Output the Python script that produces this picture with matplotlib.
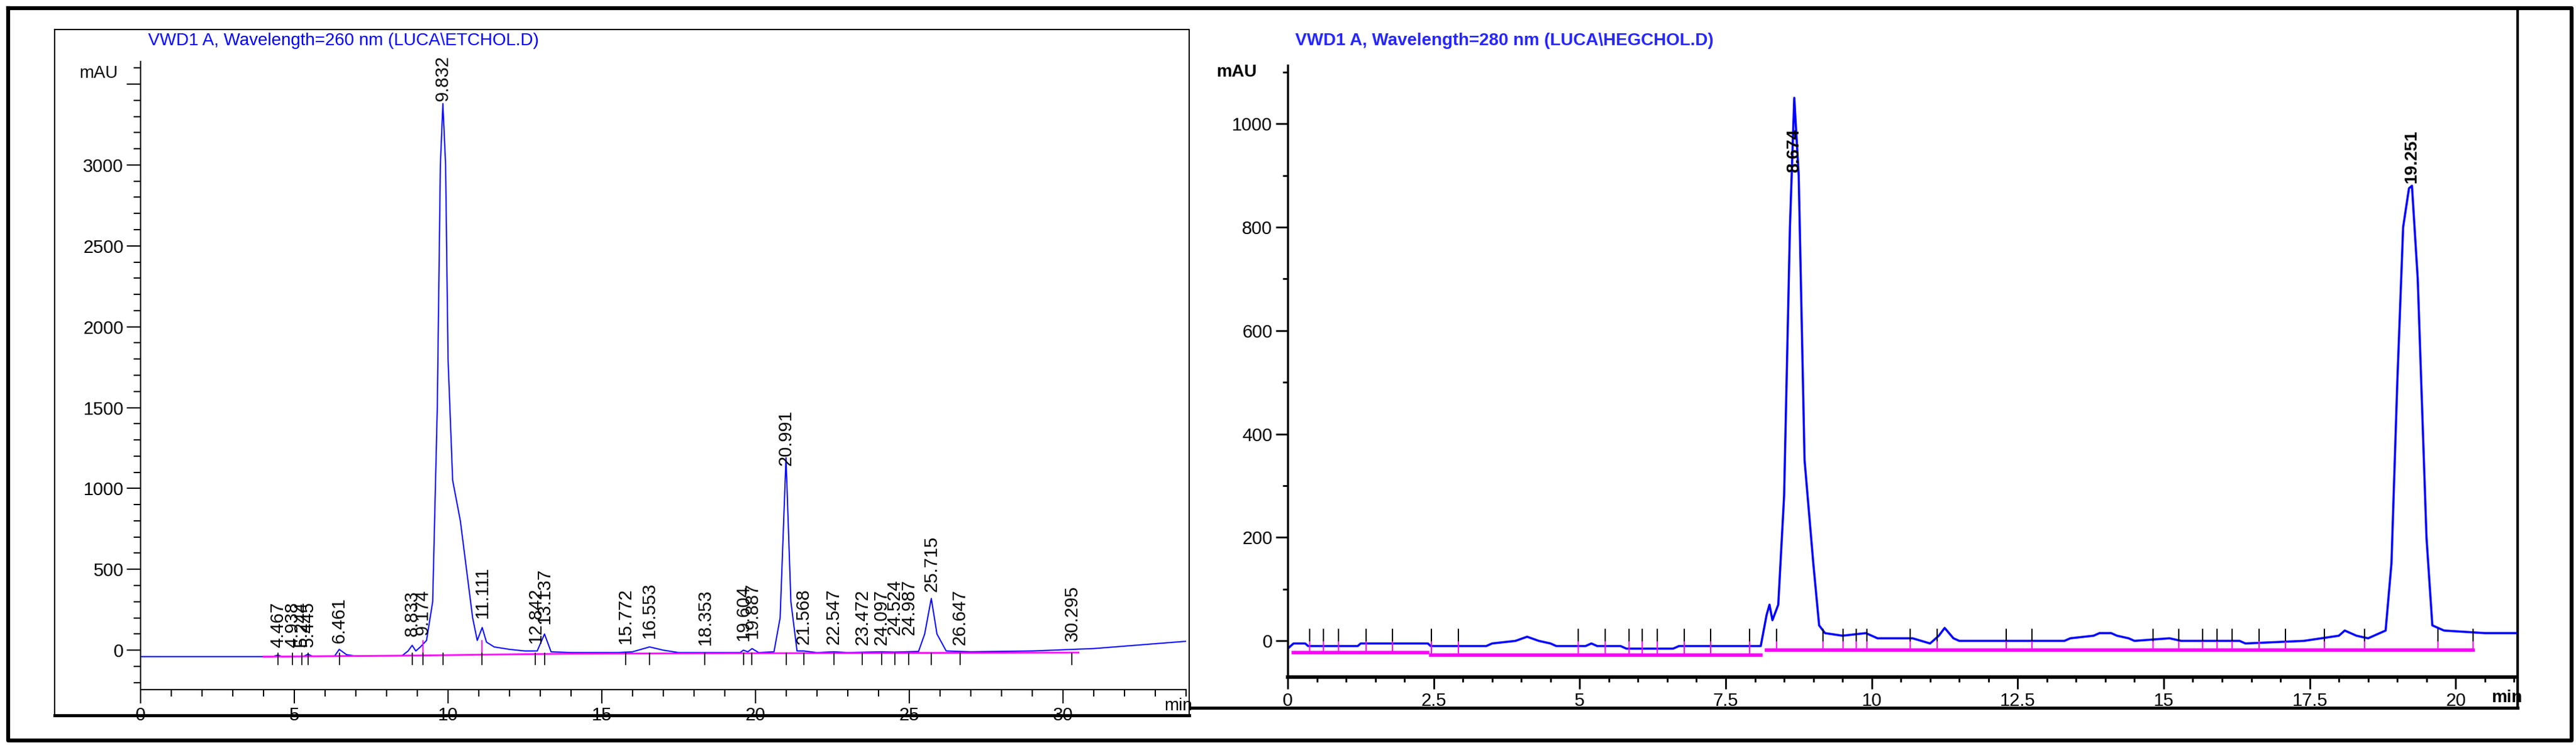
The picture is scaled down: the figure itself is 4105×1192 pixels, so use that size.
import matplotlib
matplotlib.use("Agg")
import matplotlib.pyplot as plt
from matplotlib.ticker import MultipleLocator, FixedFormatter, FixedLocator

# ---------------- data: left chromatogram (260 nm) ----------------
left_t = [0, 4.3, 4.467, 4.6, 5.3, 5.445, 5.6, 6.3, 6.461, 6.7, 7.0, 8.5, 8.7, 8.833, 8.95, 9.1, 9.3, 9.5,
          9.65, 9.75, 9.832, 9.92, 10.0, 10.15, 10.4, 10.6, 10.8, 10.95, 11.111, 11.25, 11.5, 12.0, 12.5,
          12.9, 13.137, 13.35, 14.0, 15.5, 16.0, 16.553, 17.0, 17.5, 19.5, 19.604, 19.75, 19.887, 20.1,
          20.6, 20.8, 20.991, 21.15, 21.35, 21.568, 22.0, 22.547, 23.0, 24.097, 24.5, 25.3, 25.5, 25.715,
          25.9, 26.2, 27.0, 29.0, 31.0, 33.0, 34.0]
left_v = [-40, -40, -30, -40, -39, -25, -39, -39, 5, -28, -36, -35, -5, 30, -5, 20, 60, 300,
          1500, 3000, 3380, 3000, 1800, 1050, 800, 500, 200, 60, 140, 50, 20, 5, -5,
          -5, 100, -10, -15, -15, -10, 20, 0, -15, -15, 0, -10, 10, -15,
          -10, 200, 1190, 300, -5, -5, -15, -10, -15, -10, -12, -8, 100, 320,
          100, -5, -10, -5, 10, 40, 55]
left_peaks = ["4.467", "4.938", "5.244", "5.445", "6.461", "8.833", "9.174", "9.832", "11.111", "12.842",
              "13.137", "15.772", "16.553", "18.353", "19.604", "19.887", "20.991", "21.568", "22.547",
              "23.472", "24.097", "24.524", "24.987", "25.715", "26.647", "30.295"]
left_label_y = [0, 0, 5, 5, 30, 70, 80, 3380, 185, 30, 150, 25, 60, 15, 45, 60, 1125, 20, 20,
                15, 15, 80, 80, 345, 15, 40]
left_yticks = [0, 500, 1000, 1500, 2000, 2500, 3000, 3500]
left_yticklabels = ["0", "500", "1000", "1500", "2000", "2500", "3000", ""]
left_base_t = [4.0, 9.1, 11.0, 13.9, 17.5, 30.5]
left_base_v = [-40, -33, -28, -22, -20, -15]
left_drop_t = [9.174, 11.111]
left_drop_top = [60, 60]

# ---------------- data: right chromatogram ----------------
right_t = [0, 0.1, 0.3, 0.35, 1.2, 1.25, 2.4, 2.45, 3.4, 3.5, 3.9, 4.1, 4.3, 4.5, 4.6, 5.1, 5.2, 5.3, 5.7,
           5.8, 6.6, 6.7, 8.1, 8.2, 8.25, 8.3, 8.4, 8.5, 8.6, 8.674, 8.75, 8.85, 9.0, 9.1, 9.2, 9.5, 9.9,
           10.1, 10.7, 11.0, 11.15, 11.25, 11.4, 11.5, 13.3, 13.4, 13.8, 13.9, 14.1, 14.2, 14.4, 14.5,
           15.1, 15.3, 16.3, 16.4, 17.4, 18.0, 18.1, 18.3, 18.5, 18.8, 18.9, 19.0, 19.1, 19.2, 19.251,
           19.35, 19.5, 19.6, 19.7, 19.8, 20.5, 21.05]
right_v = [-15, -5, -5, -10, -10, -5, -5, -10, -10, -5, 0, 8, 0, -5, -10, -10, -5, -10, -10,
           -15, -15, -10, -10, 50, 70, 40, 70, 280, 800, 1050, 900, 350, 150, 30, 15, 10, 15,
           5, 5, -5, 10, 25, 5, 0, 0, 5, 10, 15, 15, 10, 5, 0,
           5, 0, 0, -5, 0, 10, 20, 10, 5, 20, 150, 500, 800, 875, 880,
           700, 200, 30, 25, 20, 15, 15]
right_peaks = ["8.674", "19.251"]
right_peak_t = [8.674, 19.251]
right_label_y = [905, 885]
right_xticks = [0, 2.5, 5, 7.5, 10, 12.5, 15, 17.5, 20]
right_xticklabels = ["0", "2.5", "5", "7.5", "10", "12.5", "15", "17.5", "20"]
right_base_seg = [(0.1, 2.4, -23), (2.45, 8.1, -28), (8.2, 20.3, -18)]
right_marks = [0.38, 0.61, 0.87, 1.34, 1.79, 2.46, 2.92, 4.98, 5.44, 5.85, 6.07, 6.33, 6.79, 7.24, 7.91,
               8.37, 9.17, 9.51, 9.73, 9.92, 10.66, 11.12, 12.30, 12.74, 14.82, 15.26, 15.67, 15.91,
               16.17, 16.63, 17.08, 17.75, 18.44, 19.70, 20.30]

W, H = 4105, 1192
fig = plt.figure(figsize=(W / 100, H / 100), dpi=100)
plt.rcParams['font.family'] = ['Liberation Sans Narrow', 'Liberation Sans', 'DejaVu Sans']

# frame overlay
ov = fig.add_axes([0, 0, 1, 1], zorder=-1)
ov.set_xlim(0, W); ov.set_ylim(H, 0); ov.axis('off')
ov.plot([13, 4098, 4098, 13, 13], [13, 13, 1180, 1180, 13], color='black', lw=4.5)
ov.plot([87, 1895, 1895], [47, 47, 1140], color='black', lw=1.5)
ov.plot([87, 87], [47, 1140], color='black', lw=1.5)
ov.plot([87, 1895], [1140, 1140], color='black', lw=3.5)
ov.plot([1900, 4012], [1128, 1128], color='black', lw=3.5)
ov.plot([4012, 4012], [13, 1128], color='black', lw=3)

ov.text(236, 65, "VWD1 A, Wavelength=260 nm (LUCA\\ETCHOL.D)", color='blue', fontsize=20, va='center')
ov.text(2064, 65, "VWD1 A, Wavelength=280 nm (LUCA\\HEGCHOL.D)", color='blue', fontsize=20,
        va='center', fontweight='bold', alpha=0.85)
ov.text(157, 117, "mAU", fontsize=20, ha='center', va='center')
ov.text(1970, 115, "mAU", fontsize=20, ha='center', va='center', fontweight='bold')
ov.text(1900, 1125, "min", fontsize=20, ha='right', va='center')
ov.text(4019, 1112, "min", fontsize=20, ha='right', va='center', fontweight='bold')

# ---------- left axes ----------
ax = fig.add_axes([224 / W, 1 - 1099 / H, 1666 / W, (1099 - 98) / H])
ax.set_xlim(0, 34); ax.set_ylim(-244, 3640)
ax.plot(left_t, left_v, color='blue', lw=1.4)
ax.plot(left_base_t, left_base_v, color='magenta', lw=2)
for t, top in zip(left_drop_t, left_drop_top):
    ax.plot([t, t], [-35, top], color='magenta', lw=1.5)
for lab, y in zip(left_peaks, left_label_y):
    t = float(lab)
    ax.plot([t, t], [-90, -20], color='black', lw=1.2)
    ax.text(t, y + 15, lab, rotation=90, ha='center', va='bottom', fontsize=21)
for s in ['top', 'right']:
    ax.spines[s].set_visible(False)
ax.spines['bottom'].set_linewidth(1.5); ax.spines['left'].set_linewidth(1.5)
ax.xaxis.set_major_locator(MultipleLocator(5)); ax.xaxis.set_minor_locator(MultipleLocator(1))
ax.yaxis.set_major_locator(FixedLocator(left_yticks))
ax.yaxis.set_major_formatter(FixedFormatter(left_yticklabels))
ax.yaxis.set_minor_locator(MultipleLocator(100))
ax.tick_params(which='major', length=16, width=1.5, labelsize=21, direction='out')
ax.tick_params(which='minor', length=8, width=1.5, direction='out')
ax.set_facecolor('none')

# ---------- right axes ----------
ax2 = fig.add_axes([2052 / W, 1 - 1079 / H, 1959 / W, (1079 - 104) / H])
ax2.set_xlim(0, 21.05); ax2.set_ylim(-70, 1113)
ax2.plot(right_t, right_v, color='blue', lw=2.5)
for a, b, y in right_base_seg:
    ax2.plot([a, b], [y, y], color='magenta', lw=4)
for t in right_marks:
    base = [y for a, b, y in right_base_seg if a - 0.05 <= t <= b + 0.05]
    yb = base[0] if base else -20
    ax2.plot([t, t], [yb, 0], color='magenta', lw=1.5)
    ax2.plot([t, t], [0, 22], color='black', lw=1.5)
for lab, t, y in zip(right_peaks, right_peak_t, right_label_y):
    ax2.text(t, y, lab, rotation=90, ha='center', va='bottom', fontsize=20, fontweight='bold')
for s in ['top', 'right']:
    ax2.spines[s].set_visible(False)
ax2.spines['bottom'].set_linewidth(4); ax2.spines['left'].set_linewidth(2.5)
ax2.xaxis.set_minor_locator(MultipleLocator(0.5))
ax2.set_xticks(right_xticks)
ax2.set_xticklabels(right_xticklabels)
ax2.yaxis.set_major_locator(MultipleLocator(200)); ax2.yaxis.set_minor_locator(MultipleLocator(100))
ax2.tick_params(which='major', length=14, width=2, labelsize=21, direction='out')
ax2.tick_params(which='minor', length=6, width=2, direction='out')
ax2.set_facecolor('none')

fig.savefig("out.png", dpi=100)
